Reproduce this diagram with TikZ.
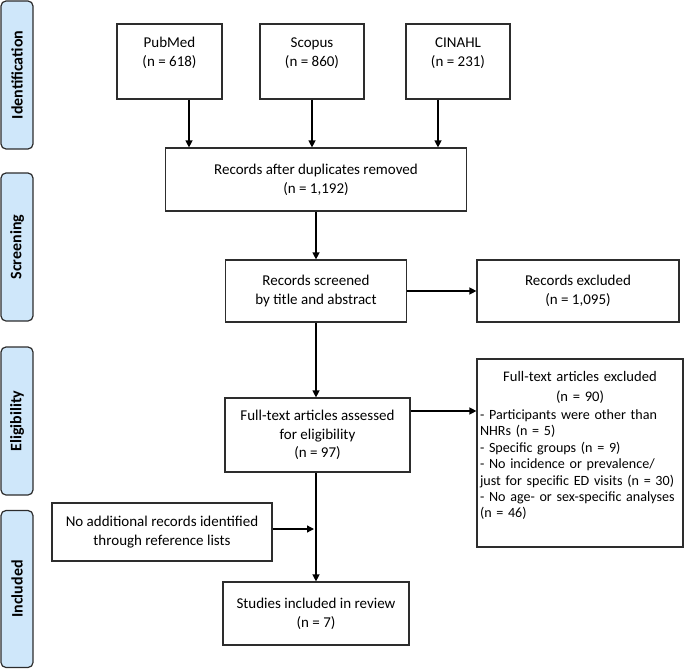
\documentclass[tikz,border=0pt]{standalone}
\usepackage{fontspec}
\setmainfont{Carlito}
\usetikzlibrary{arrows.meta,calc}
\definecolor{lab}{RGB}{207,231,250}
\definecolor{bord}{RGB}{45,45,45}
\begin{document}
\begin{tikzpicture}[x=1pt,y=-1pt,
  box/.style={draw=bord,line width=1.2pt,align=center,inner sep=2pt,
    font=\fontsize{15}{18.8}\selectfont},
  side/.style={draw=bord,line width=1.2pt,fill=lab,rounded corners=5pt,rotate=90,
    minimum height=32pt,inner sep=0pt,font=\fontsize{16}{19}\selectfont\bfseries},
  arr/.style={line width=1.3pt,-{Triangle[length=7pt,width=7pt]}},
  ln/.style={line width=1.3pt}]
\useasboundingbox (0,0) rectangle (685,669);
% side labels
\node[side,minimum width=148pt] (idl) at (17,75) {Identification};
\node[side,minimum width=148pt] (scl) at (17,247) {Screening};
\node[side,minimum width=148pt] (ell) at (17,421) {Eligibility};
\node[side,minimum width=157pt] (inl) at (17,589) {Included};
% boxes
\node[box,minimum width=105pt,minimum height=75pt] (pub) at (169.5,61.5) {PubMed\\(n = 618)\\\mbox{}};
\node[box,minimum width=104pt,minimum height=75pt] (sco) at (312,61.5) {Scopus\\(n = 860)\\\mbox{}};
\node[box,minimum width=104pt,minimum height=75pt] (cin) at (458,61.5) {CINAHL\\(n = 231)\\\mbox{}};
\node[box,minimum width=301pt,minimum height=63pt] (rec) at (316,179.5) {Records after duplicates removed\\(n = 1,192)};
\node[box,minimum width=181pt,minimum height=62pt] (scr) at (316,291) {Records screened\\by title and abstract};
\node[box,minimum width=202pt,minimum height=62pt] (exc) at (578,291) {Records excluded\\(n = 1,095)};
\node[box,minimum width=185pt,minimum height=74pt] (ass) at (317.5,435) {Full-text articles assessed\\for eligibility\\(n = 97)};
\node[box,minimum height=188pt,text width=200pt,inner xsep=3pt,inner ysep=1pt,align=left,
  font=\fontsize{14.1}{16.4}\selectfont] (ftx) at (580,453)
  {\makebox[\linewidth]{\fontsize{14.6}{16.4}\selectfont Full-text articles excluded}\\[3.5pt]
   \makebox[\linewidth]{\fontsize{14.6}{16.4}\selectfont (n = 90)}\\[1.5pt]
   \mbox{- Participants were other than}\\
   NHRs (n = 5)\\
   - Specific groups (n = 9)\\
   \mbox{- No incidence or prevalence/}\\
   \mbox{just for specific ED visits (n = 30)}\\
   \mbox{- No age- or sex-specific analyses}\\
   (n = 46)\\
   \mbox{}};
\node[box,minimum width=220pt,minimum height=58pt] (nad) at (162,532) {No additional records identified\\through reference lists};
\node[box,minimum width=186pt,minimum height=63pt] (stu) at (316,613.5) {Studies included in review\\(n = 7)};
% connectors
\draw[arr] ([xshift=19.5pt]pub.south) -- ([xshift=19.5pt]pub.south |- rec.north);
\draw[arr] (sco.south) -- (sco.south |- rec.north);
\draw[arr] ([xshift=-20pt]cin.south) -- ([xshift=-20pt]cin.south |- rec.north);
\draw[arr] (rec.south) -- (rec.south |- scr.north);
\draw[arr] (scr.east) -- (exc.west);
\draw[arr] (scr.south) -- (scr.south |- ass.north);
\draw[arr] ([yshift=24pt]ass.east) -- ([yshift=24pt]ass.east -| ftx.west);
\draw[arr] ([xshift=-1.5pt]ass.south) -- ([xshift=-1.5pt]ass.south |- stu.north);
\draw[arr] ([yshift=3pt]nad.east) -- ([yshift=3pt,xshift=-2pt]nad.east -| stu.north);
\end{tikzpicture}
\end{document}
